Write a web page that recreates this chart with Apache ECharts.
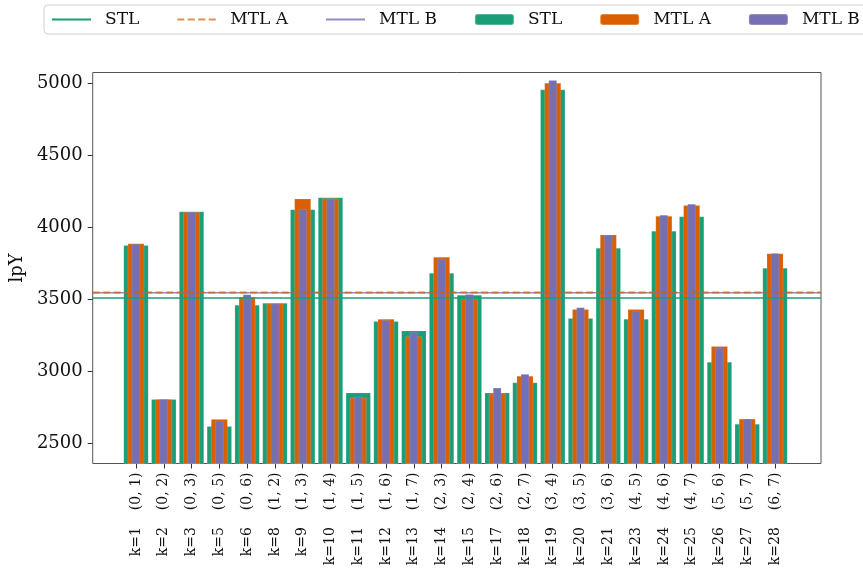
<!DOCTYPE html>
<html>
<head>
<meta charset="utf-8">
<script src="https://cdn.jsdelivr.net/npm/echarts@6/dist/echarts.min.js"></script>
<style>html,body{margin:0;padding:0;background:#fff}#c{width:863px;height:580px}</style>
</head>
<body>
<div id="c"></div>
<script>
const pairLabels = ['(0, 1)','(0, 2)','(0, 3)','(0, 5)','(0, 6)','(1, 2)','(1, 3)','(1, 4)','(1, 5)','(1, 6)','(1, 7)','(2, 3)','(2, 4)','(2, 6)','(2, 7)','(3, 4)','(3, 5)','(3, 6)','(4, 5)','(4, 6)','(4, 7)','(5, 6)','(5, 7)','(6, 7)'];
const kLabels = ['k=1','k=2','k=3','k=5','k=6','k=8','k=9','k=10','k=11','k=12','k=13','k=14','k=15','k=17','k=18','k=19','k=20','k=21','k=23','k=24','k=25','k=26','k=27','k=28'];
const stl  = [3875,2807,4110,2620,3461,3475,4124,4207,2853,3348,3283,3683,3531,2853,2923,4956,3369,3857,3364,3974,4076,3066,2636,3718];
const mtlA = [3887,2807,4107,2669,3517,3471,4198,4200,2817,3364,3242,3794,3505,2847,2969,5002,3431,3949,3431,4078,4154,3175,2671,3819];
const mtlB = [3884,2807,4106,2657,3533,3471,4126,4193,2824,3355,3272,3780,3535,2886,2981,5021,3443,3946,3420,4085,4161,3163,2671,3819];
const meanSTL = 3509, meanA = 3547, meanB = 3545;
const yTicks = [2500,3000,3500,4000,4500,5000];

const Y_MIN = 2361, Y_MAX = 5074;
const FONT = 'DejaVu Serif';
const C_G = '#1b9e77', C_O = '#d95f02', C_P = '#7570b3';

const cats = pairLabels.map((p, i) => kLabels[i] + '|' + p);
const lineData = v => [[0, v], [1, v]];
const TOP = 72.5, BOTTOM = 116.5;

const catAxis = (show) => ({
  type:'category', gridIndex:1, data:cats, boundaryGap:true, show:show,
  axisLine:{show:false},
  axisTick:{show:show, alignWithLabel:true, length:5, lineStyle:{color:'#333'}},
  axisLabel:{show:show, rotate:90, margin:9, interval:0, color:'#111',
    formatter: v => { const s = v.split('|'); return '{k|' + s[0] + '}{s|}{p|' + s[1] + '}'; },
    rich:{k:{fontFamily:FONT, fontSize:14, color:'#111'}, s:{width:17}, p:{fontFamily:FONT, fontSize:14, color:'#111'}}
  }
});

const chart = echarts.init(document.getElementById('c'), null, {renderer:'canvas'});
chart.setOption({
  animation:false,
  backgroundColor:'#fff',
  textStyle:{fontFamily:FONT},
  grid:[
    {left:91, right:42, top:TOP, bottom:BOTTOM, show:true, borderColor:'#555', borderWidth:1},
    {left:122.1, right:74.1, top:TOP, bottom:BOTTOM}
  ],
  legend:{
    left:44, top:5, width:1000,
    padding:[6,24,6,7],
    borderColor:'#d0d0d0', borderWidth:1, borderRadius:4,
    itemWidth:39, itemHeight:11, itemGap:37,
    textStyle:{fontFamily:FONT, fontSize:17, color:'#111', padding:[0,0,0,9]},
    data:[
      {name:'STL', itemStyle:{opacity:0}},
      {name:'MTL A', itemStyle:{opacity:0}},
      {name:'MTL B', itemStyle:{opacity:0}},
      {name:'STL '},{name:'MTL A '},{name:'MTL B '}],
    formatter: n => n.trim()
  },
  xAxis:[
    {type:'value', gridIndex:0, min:0, max:1, show:false},
    catAxis(true), catAxis(false), catAxis(false)
  ],
  yAxis:[
    {type:'value', gridIndex:0, min:Y_MIN, max:Y_MAX,
     name:'lpY', nameLocation:'middle', nameGap:60, nameRotate:90,
     nameTextStyle:{fontFamily:FONT, fontSize:18, color:'#111'},
     axisLine:{show:false, onZero:false}, splitLine:{show:false},
     axisTick:{show:true, length:5, lineStyle:{color:'#333'}, customValues:yTicks},
     axisLabel:{margin:10, fontFamily:FONT, fontSize:18, color:'#111', customValues:yTicks, formatter: v => String(v)}},
    {type:'value', gridIndex:1, min:Y_MIN, max:Y_MAX, show:false, splitLine:{show:false}}
  ],
  series:[
    {name:'STL', type:'line', xAxisIndex:0, yAxisIndex:0, data:lineData(meanSTL), showSymbol:false, z:10,
     lineStyle:{color:C_G, width:1.5}, itemStyle:{color:C_G}},
    {name:'MTL B', type:'line', xAxisIndex:0, yAxisIndex:0, data:lineData(meanB), showSymbol:false, z:11,
     lineStyle:{color:C_P, width:1.5, opacity:0.8}, itemStyle:{color:C_P}},
    {name:'MTL A', type:'line', xAxisIndex:0, yAxisIndex:0, data:lineData(meanA), showSymbol:false, z:12,
     lineStyle:{color:C_O, width:2, type:[7,3.5], opacity:0.7}, itemStyle:{color:C_O}},
    {name:'STL ', type:'bar', xAxisIndex:1, yAxisIndex:1, data:stl, barWidth:25, z:2,
     itemStyle:{color:C_G, borderColor:'rgba(255,255,255,0.25)', borderWidth:0.6}},
    {name:'MTL A ', type:'bar', xAxisIndex:2, yAxisIndex:1, data:mtlA, barWidth:16.7, z:3,
     itemStyle:{color:C_O, borderColor:'rgba(255,255,255,0.25)', borderWidth:0.6}},
    {name:'MTL B ', type:'bar', xAxisIndex:3, yAxisIndex:1, data:mtlB, barWidth:8.3, z:4,
     itemStyle:{color:C_P, borderColor:'rgba(255,255,255,0.2)', borderWidth:0.5}}
  ]
});
</script>
</body>
</html>
